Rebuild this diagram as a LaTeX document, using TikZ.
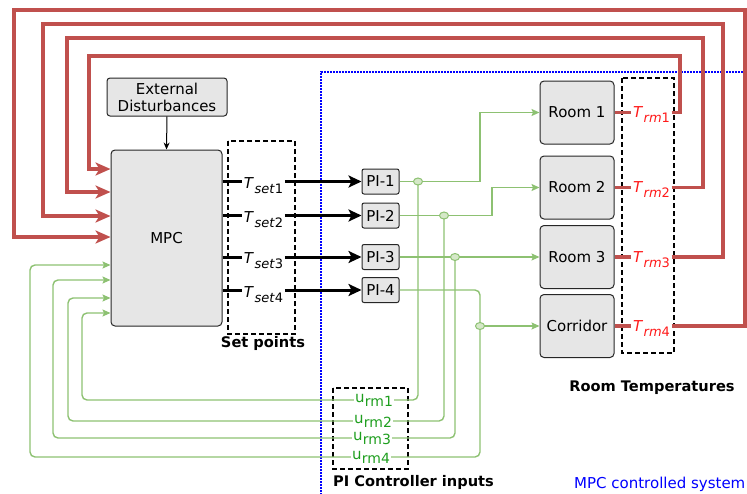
\documentclass[tikz,border=0pt]{standalone}
\usepackage{fontspec}
\setmainfont{DejaVu Sans}
\usetikzlibrary{arrows.meta,shapes.geometric}
\definecolor{lred}{HTML}{C0504D}
\definecolor{lgreen}{HTML}{8DC172}
\definecolor{dotfill}{HTML}{D5E8C8}
\definecolor{tgreen}{HTML}{1E9E1E}
\definecolor{tred}{HTML}{FF1A1A}
\definecolor{boxgray}{HTML}{E6E6E6}
\newcommand\Tlab[2]{\textit{T}\kern0.5pt\raisebox{-0.36em}{\fontsize{13}{14}\selectfont\textit{#1}#2}}
\newcommand\Ulab[1]{u\kern0.3pt\raisebox{-0.22em}{\fontsize{14}{15}\selectfont rm#1}}
\begin{document}
\begin{tikzpicture}[x=1pt,y=-1pt,
  box/.style={draw=black!85,fill=boxgray,rounded corners=4pt,line width=1pt,
    font=\fontsize{15}{17}\selectfont,align=center,inner sep=0pt},
  pibox/.style={box,rounded corners=2pt,minimum width=37pt,minimum height=25pt},
  roombox/.style={box,minimum width=74pt,minimum height=63pt},
  dbox/.style={draw=black,line width=1.5pt,dash pattern=on 5pt off 3pt},
  redline/.style={draw=lred,line width=3.5pt},
  redarrow/.style={redline,-{Stealth[length=15pt,width=13pt,inset=4pt]}},
  tline/.style={draw=black,line width=3pt},
  tarrow/.style={tline,-{Stealth[length=13pt,width=12pt,inset=3pt]}},
  gline/.style={draw=lgreen,line width=1.4pt},
  garrow/.style={gline,-{Stealth[length=8pt,width=7pt,inset=1.5pt]}},
  gdot/.style={ellipse,draw=lgreen,fill=dotfill,line width=1pt,minimum width=9pt,minimum height=7pt,inner sep=0pt},
  tlbl/.style={font=\fontsize{15}{17}\selectfont,inner sep=1.5pt,anchor=base},
  ulbl/.style={font=\fontsize{15}{17}\selectfont,text=tgreen,inner sep=1pt,anchor=mid},
  blbl/.style={font=\fontsize{14.6}{17}\selectfont\bfseries,inner sep=0pt}
]
\useasboundingbox (0,0) rectangle (747,493);

% blue dotted system boundary
\draw[blue,line width=1.6pt,dash pattern=on 1.6pt off 1.4pt] (321,495) -- (321,72) -- (750,72);

% main blocks
\node[box,minimum width=111pt,minimum height=176pt] (mpc) at (166.5,238) {MPC};
\node[box,rounded corners=3pt,minimum width=120pt,minimum height=38pt] (ext) at (167,97) {External\\Disturbances};
\draw[black,line width=1pt,-{Stealth[length=7pt,width=6pt]}] (ext.south) -- (mpc.north);

\node[pibox] (pi1) at (380.5,181.5) {PI-1};
\node[pibox] (pi2) at (380.5,215.5) {PI-2};
\node[pibox] (pi3) at (380.5,257) {PI-3};
\node[pibox] (pi4) at (380.5,290) {PI-4};

\node[roombox] (room1) at (577,112.5) {Room 1};
\node[roombox] (room2) at (577,187.5) {Room 2};
\node[roombox] (room3) at (577,257) {Room 3};
\node[roombox] (room4) at (577,326) {Corridor};

% dashed groups
\draw[dbox] (228,141) rectangle (295,334);
\draw[dbox] (333,388) rectangle (408,469);
\draw[dbox] (622,78) rectangle (674,353);
\node[blbl] (lsp) at (263,343) {Set points};
\node[blbl,anchor=west] (lpi) at (333,482) {PI Controller inputs};
\node[blbl] (lrt) at (652,388) {Room Temperatures};
\node[font=\fontsize{15}{17}\selectfont,text=blue,anchor=west,inner sep=0pt] (lmpc) at (574,484) {MPC controlled system};

% set point labels and lines
\node[tlbl] (ts1) at (263.5,188) {\Tlab{set}{1}};
\node[tlbl] (ts2) at (263.5,222) {\Tlab{set}{2}};
\node[tlbl] (ts3) at (263.5,263) {\Tlab{set}{3}};
\node[tlbl] (ts4) at (263.5,297) {\Tlab{set}{4}};
\foreach \i in {1,2,3,4}{
  \draw[tline] (mpc.east |- pi\i) -- (ts\i.west |- pi\i);
  \draw[tarrow] (ts\i.east |- pi\i) -- (pi\i.west);
}

% room temperature labels
\node[tlbl,text=tred] (tr1) at (651.5,117) {\Tlab{rm}{1}};
\node[tlbl,text=tred] (tr2) at (651.5,192) {\Tlab{rm}{2}};
\node[tlbl,text=tred] (tr3) at (651.5,262) {\Tlab{rm}{3}};
\node[tlbl,text=tred] (tr4) at (651.5,331) {\Tlab{rm}{4}};
\foreach \i in {1,2,3,4}{
  \draw[redline] (room\i.east) -- (tr\i.west |- room\i);
}

% MPC input points
\path (mpc.west) ++(0,-69) coordinate (in1);
\path (mpc.west) ++(0,-46) coordinate (in2);
\path (mpc.west) ++(0,-22) coordinate (in3);
\path (mpc.west) ++(0,-1) coordinate (in4);
\path (mpc.west) ++(0,27) coordinate (in5);
\path (mpc.west) ++(0,42) coordinate (in6);
\path (mpc.west) ++(0,60) coordinate (in7);
\path (mpc.west) ++(0,75) coordinate (in8);

% red feedback loops
\draw[redarrow] (tr1.east |- room1) -| (680,56) -| (89,169) -- (in1);
\draw[redarrow] (tr2.east |- room2) -| (703,38) -| (67,192) -- (in2);
\draw[redarrow] (tr3.east |- room3) -| (723,24) -| (43,216) -- (in3);
\draw[redarrow] (tr4.east |- room4) -| (745,10) -| (14,237) -- (in4);

% PI controller input labels
\node[ulbl] (u1) at (374,400) {\Ulab{1}};
\node[ulbl] (u2) at (373,421) {\Ulab{2}};
\node[ulbl] (u3) at (372,438) {\Ulab{3}};
\node[ulbl] (u4) at (371,457) {\Ulab{4}};

% junctions
\coordinate (j1) at (418,181.5);
\coordinate (j2) at (444,215.5);
\coordinate (j3) at (455,257);
\coordinate (j4) at (480,326);

% green lines to rooms
\draw[gline] (pi1.east) -- (j1);
\draw[garrow] (j1) -- (480,181.5) |- (room1.west);
\draw[gline] (pi2.east) -- (j2);
\draw[garrow] (j2) -- (492,215.5) |- (room2.west);
\draw[garrow] (pi3.east) -- (room3.west);
\draw[gline,rounded corners=5pt] (pi4.east) -| (j4);
\draw[garrow] (j4) -- (room4.west);

% green lines down to PI input labels
\draw[gline,rounded corners=5pt] (j1) |- (u1.mid east);
\draw[gline,rounded corners=5pt] (j2) |- (u2.mid east);
\draw[gline,rounded corners=5pt] (j3) |- (u3.mid east);
\draw[gline,rounded corners=5pt] (j4) |- (u4.mid east);

% green lines back to MPC
\draw[garrow,rounded corners=5pt] (u1.mid west) -| (82,313) -- (in8);
\draw[garrow,rounded corners=5pt] (u2.mid west) -| (68,298) -- (in7);
\draw[garrow,rounded corners=5pt] (u3.mid west) -| (53,280) -- (in6);
\draw[garrow,rounded corners=5pt] (u4.mid west) -| (30,265) -- (in5);

% junction dots
\foreach \i in {1,2,3,4}{ \node[gdot] (d\i) at (j\i) {}; }
\end{tikzpicture}
\end{document}
